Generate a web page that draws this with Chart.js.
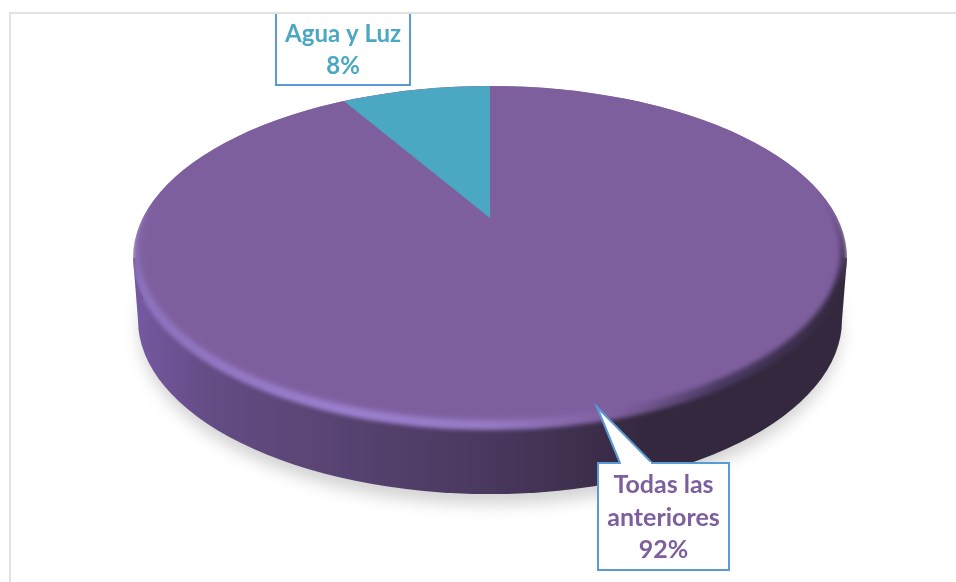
<!DOCTYPE html>
<html lang="es">
<head>
    <meta charset="UTF-8">
    <title>Servicios</title>
    <script src="https://cdn.jsdelivr.net/npm/chart.js"></script>
    <style>
        html,body{margin:0;padding:0;background:#fff;}
        canvas{display:block;}
    </style>
</head>
<body>
    <canvas id="myChart" width="956" height="582"></canvas>

    <script>
        // data, the labels round to 92% and 8%
        const categories = ['Todas las anteriores','Agua y Luz'];
        const values = [91.6,8.4];
        const sliceColors = ['#7e5f9e','#4aa8c3'];

        // top face: perspective projection of the unit disc
        const apexX = 490, apexY = 218;
        const faceK = -0.2096, faceB = 159.7, faceA = 342.2;
        const project = (ang)=>{
            const u = Math.cos(ang), v = Math.sin(ang);
            const w = 1 + faceK*v;
            return [apexX + faceA*u/w, apexY + faceB*v/w];
        };

        const ellipsePath = (ctx,cx,cy,rx,ry)=>{
            ctx.beginPath();
            ctx.ellipse(cx,cy,rx,ry,0,0,Math.PI*2);
        };

        const hGrad = (ctx,x0,x1,stops)=>{
            const g = ctx.createLinearGradient(x0,0,x1,0);
            stops.forEach(s=>g.addColorStop(s[0],s[1]));
            return g;
        };

        const drawBody = (ctx)=>{
            // soft shadow under the disc
            ctx.save();
            ctx.filter = 'blur(8px)';
            ctx.fillStyle = '#d2d2d2';
            ellipsePath(ctx,490,330,350,174);
            ctx.fill();
            ctx.restore();

            // side wall
            ctx.fillStyle = hGrad(ctx,138,842,[[0,'#7558a0'],[0.1,'#644c85'],[0.25,'#5a4575'],[0.5,'#49385e'],[0.66,'#3b2d49'],[0.72,'#34283f'],[1,'#34283f']]);
            ellipsePath(ctx,490,320,352,174);
            ctx.fill();
            ctx.beginPath();
            ctx.moveTo(133,258);
            ctx.lineTo(138,320);
            ctx.lineTo(842,320);
            ctx.lineTo(847,258);
            ctx.closePath();
            ctx.fill();

            // bevel rim, its blur may only spill onto the wall below
            ctx.save();
            ctx.beginPath();
            ctx.ellipse(490,258,357,172,0,0,Math.PI*2);
            ctx.rect(140,300,700,282);
            ctx.clip();
            ctx.filter = 'blur(2px)';
            ctx.fillStyle = hGrad(ctx,133,847,[[0,'#8d72bd'],[0.3,'#9c80cf'],[0.5,'#987bc6'],[0.68,'#7e5f9e'],[0.82,'#4a3a62'],[1,'#34283f']]);
            ellipsePath(ctx,490,258,357,172);
            ctx.fill();
            ctx.restore();

            // far half of the disc has no bevel
            const fade = ctx.createLinearGradient(0,200,0,285);
            fade.addColorStop(0,'rgba(126,95,158,1)');
            fade.addColorStop(1,'rgba(126,95,158,0)');
            ctx.fillStyle = fade;
            ellipsePath(ctx,490,258,357,172);
            ctx.fill();
        };

        // one slice of the top face, angles come from the chart's own arc elements
        const slicePath = (ctx,start,end)=>{
            ctx.beginPath();
            ctx.moveTo(apexX,apexY);
            const steps = Math.max(8,Math.ceil((end-start)*60));
            for(let i=0;i<=steps;i++){
                const p = project(start+(end-start)*i/steps);
                ctx.lineTo(p[0],p[1]);
            }
            ctx.closePath();
        };

        const tiltedPie = {
            id:'tiltedPie',
            beforeDatasetDraw(chart,args){
                const ctx = chart.ctx;
                const arcs = args.meta.data;
                drawBody(ctx);
                ctx.save();
                ellipsePath(ctx,490,258,357,172);
                ctx.clip();
                arcs.forEach((arc,i)=>{
                    const p = arc.getProps(['startAngle','endAngle'],true);
                    ctx.save();
                    // the big slice melts into the bevel, the small one stays sharp
                    if(i===0) ctx.filter = 'blur(2.5px)';
                    ctx.fillStyle = sliceColors[i];
                    slicePath(ctx,p.startAngle,p.endAngle);
                    ctx.fill();
                    ctx.restore();
                });
                ctx.restore();
                return false;
            }
        };

        // callouts
        const boxes = [
            {i:1,x:276,y:13,w:134,h:72,lines:['Agua y Luz'],lineY:[42,74],font:'bold 24px Lato',color:'#4aa8c3',tail:null,openTop:true},
            {i:0,x:598,y:463,w:131,h:107,lines:['Todas las','anteriores'],lineY:[493,526,558],font:'bold 25px Lato',color:'#7e5f9e',tail:[[620,463],[597,407],[652,463]],openTop:false}
        ];

        const callouts = {
            id:'callouts',
            afterDraw(chart){
                const ctx = chart.ctx;
                const total = values.reduce((a,b)=>a+b,0);

                boxes.forEach(b=>{
                    ctx.fillStyle = '#fff';
                    ctx.strokeStyle = '#5b9bd5';
                    ctx.lineWidth = 2;
                    ctx.lineJoin = 'miter';
                    ctx.fillRect(b.x,b.y,b.w,b.h);
                    ctx.beginPath();
                    if(b.openTop){
                        ctx.moveTo(b.x,b.y);
                        ctx.lineTo(b.x,b.y+b.h);
                        ctx.lineTo(b.x+b.w,b.y+b.h);
                        ctx.lineTo(b.x+b.w,b.y);
                    }else{
                        ctx.rect(b.x,b.y,b.w,b.h);
                    }
                    ctx.stroke();
                    if(b.tail){
                        ctx.beginPath();
                        ctx.moveTo(b.tail[0][0],b.tail[0][1]);
                        ctx.lineTo(b.tail[1][0],b.tail[1][1]);
                        ctx.lineTo(b.tail[2][0],b.tail[2][1]);
                        ctx.fill();
                        ctx.stroke();
                        // open the base of the tail into the box
                        ctx.fillRect(b.tail[0][0]+1,b.y-1,b.tail[2][0]-b.tail[0][0]-2,3);
                    }
                    ctx.fillStyle = b.color;
                    ctx.font = b.font;
                    ctx.textAlign = 'center';
                    ctx.textBaseline = 'alphabetic';
                    const pct = Math.round(values[b.i]/total*100)+'%';
                    b.lines.concat([pct]).forEach((t,n)=>{
                        ctx.fillText(t,b.x+b.w/2,b.lineY[n]);
                    });
                });

                // chart frame
                ctx.strokeStyle = '#e2e2e2';
                ctx.lineWidth = 2;
                ctx.beginPath();
                ctx.moveTo(10,582);
                ctx.lineTo(10,13);
                ctx.lineTo(956,13);
                ctx.stroke();
            }
        };

        const ctx = document.querySelector('#myChart').getContext('2d');
        const myChart = new Chart(ctx,{
            type:'pie',
            data:{
                labels:categories,
                datasets:[{
                    data:values,
                    backgroundColor:sliceColors,
                    borderWidth:0
                }]
            },
            options:{
                responsive:false,
                animation:false,
                plugins:{
                    legend:{display:false},
                    tooltip:{enabled:false}
                }
            },
            plugins:[tiltedPie,callouts]
        });
    </script>
</body>
</html>
